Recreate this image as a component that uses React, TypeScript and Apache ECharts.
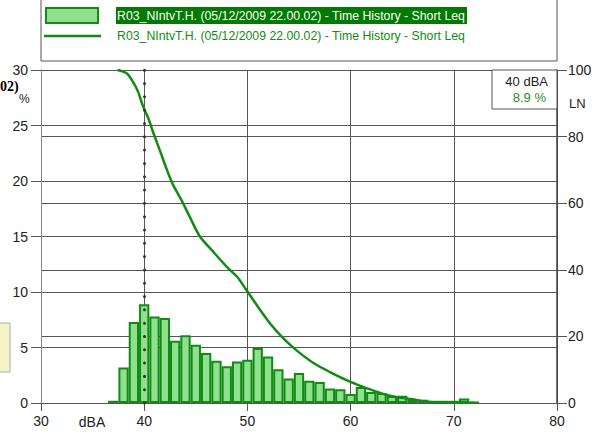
import React, { useEffect, useRef } from "react";
import * as echarts from "echarts";

// Level distribution (dBA classes, % of time)
const levels = [37, 38, 39, 40, 41, 42, 43, 44, 45, 46, 47, 48, 49, 50, 51, 52, 53, 54, 55, 56, 57, 58, 59, 60, 61, 62, 63, 64, 65, 66, 67, 68, 69, 70, 71, 72];
const percentages = [0.2, 3.2, 7.3, 8.9, 7.8, 7.65, 5.6, 6.1, 5.25, 4.5, 3.8, 3.3, 3.75, 3.9, 4.95, 4.2, 3.05, 2.2, 2.7, 2.0, 1.9, 1.3, 1.25, 0.8, 1.45, 1.0, 0.9, 0.63, 0.65, 0.35, 0.3, 0.2, 0.2, 0.2, 0.4, 0.1];

// Cumulative exceedance curve LN (dBA, %)
const lnLevels = [37.4, 38.3, 38.9, 39.4, 39.9, 40.4, 40.9, 41.5, 42.2, 42.8, 43.6, 44.4, 45.4, 46.7, 48.0, 49.0, 49.8, 51.0, 52.2, 53.3, 54.1, 55.0, 56.4, 58.0, 59.6, 61.6, 63.8, 66.0, 67.7, 69.6, 72.0];
const lnValues = [100, 99, 96.5, 93.5, 89, 85.5, 81, 76, 70, 65.5, 61, 56, 50, 45.4, 40.9, 37.9, 34.4, 29, 23.9, 20.0, 17.6, 15.2, 12.0, 9.3, 6.9, 4.4, 2.2, 1.1, 0.3, 0.1, 0];

const xTicks = [30, 40, 50, 60, 70, 80];
const cursorLevel = 40;
const cursorValue = 8.9;
const seriesName = "R03_NIntvT.H. (05/12/2009 22.00.02) - Time History - Short Leq";

const FONT = "'Liberation Sans', Arial, sans-serif";
const GREEN = "#138a13";
const GRID = "#555";

export default function App() {
  const ref = useRef<HTMLDivElement>(null);

  useEffect(() => {
    if (!ref.current) return;
    const chart = echarts.init(ref.current, null, { renderer: "svg" });
    const option: any = {
      animation: false,
      backgroundColor: "#fff",
      grid: { left: 41, right: 40, top: 70, bottom: 33, containLabel: false },
      xAxis: {
        type: "value",
        min: xTicks[0],
        max: xTicks[xTicks.length - 1],
        interval: 10,
        axisLine: { show: true, lineStyle: { color: GRID, width: 1 } },
        axisTick: { show: true, length: 8, lineStyle: { color: GRID } },
        axisLabel: { color: "#222", fontFamily: FONT, fontSize: 14, margin: 11 },
        splitLine: { show: true, lineStyle: { color: GRID, width: 1 } },
      },
      yAxis: [
        {
          type: "value",
          min: 0,
          max: 30,
          interval: 5,
          position: "left",
          axisLine: { show: true, lineStyle: { color: "#888", width: 1 } },
          axisTick: { show: true, length: 10, lineStyle: { color: GRID } },
          axisLabel: { color: "#222", fontFamily: FONT, fontSize: 14, margin: 13 },
          splitLine: { show: true, lineStyle: { color: GRID, width: 1 } },
        },
        {
          type: "value",
          min: 0,
          max: 100,
          interval: 20,
          position: "right",
          axisLine: { show: true, lineStyle: { color: "#444", width: 1.5 } },
          axisTick: { show: true, length: 10, lineStyle: { color: GRID } },
          axisLabel: { color: "#222", fontFamily: FONT, fontSize: 14, margin: 11 },
          splitLine: { show: true, lineStyle: { color: GRID, width: 1 } },
        },
      ],
      series: [
        {
          type: "bar",
          name: "dist",
          yAxisIndex: 0,
          barWidth: 10.3,
          data: levels.map((l, i) => [l, percentages[i]]),
          itemStyle: { color: "#8fe08f", borderColor: GREEN, borderWidth: 2 },
          markLine: {
            silent: true,
            symbol: "none",
            label: { show: false },
            lineStyle: { color: "#333", width: 3, type: [0.01, 13.3], cap: "round" },
            data: [{ xAxis: cursorLevel }],
          },
          z: 2,
        },
        {
          type: "line",
          name: "ln",
          yAxisIndex: 1,
          data: lnLevels.map((l, i) => [l, lnValues[i]]),
          showSymbol: false,
          smooth: 0.3,
          lineStyle: { color: GREEN, width: 2.5 },
          z: 3,
        },
      ],
      graphic: [
        // legend box
        { type: "rect", shape: { x: 41, y: -2, width: 516, height: 63 }, style: { fill: "#fff", stroke: "#555", lineWidth: 1 } },
        { type: "rect", shape: { x: 46, y: 8, width: 52, height: 15 }, style: { fill: "#8fe08f", stroke: GREEN, lineWidth: 2 } },
        { type: "rect", shape: { x: 116, y: 7, width: 351, height: 17 }, style: { fill: "#007a00" } },
        { type: "text", x: 117, y: 15.5, style: { text: seriesName, fill: "#fff", font: `12.3px ${FONT}`, textVerticalAlign: "middle" } },
        { type: "line", shape: { x1: 44, y1: 36, x2: 101, y2: 36 }, style: { stroke: GREEN, lineWidth: 2.5 } },
        { type: "text", x: 117, y: 36, style: { text: seriesName, fill: GREEN, font: `12.3px ${FONT}`, textVerticalAlign: "middle" } },
        // cursor readout
        { type: "rect", shape: { x: 492, y: 70, width: 65, height: 39 }, style: { fill: "#fff", stroke: GRID, lineWidth: 1 }, z: 10 },
        { type: "text", x: 548, y: 81, style: { text: `${cursorLevel} dBA`, fill: "#222", font: `13px ${FONT}`, textAlign: "right", textVerticalAlign: "middle" }, z: 11 },
        { type: "text", x: 546, y: 97, style: { text: `${cursorValue} %`, fill: "#2a8a2a", font: `13px ${FONT}`, textAlign: "right", textVerticalAlign: "middle" }, z: 11 },
        // axis captions
        { type: "text", x: 569, y: 103, style: { text: "LN", fill: "#222", font: `13px ${FONT}`, textVerticalAlign: "middle" } },
        { type: "text", x: 19, y: 99, style: { text: "%", fill: "#222", font: `12px ${FONT}`, textVerticalAlign: "middle" } },
        { type: "text", x: 92, y: 422, style: { text: "dBA", fill: "#222", font: `14px ${FONT}`, textAlign: "center", textVerticalAlign: "middle" } },
        { type: "text", x: 0, y: 86, style: { text: "02)", fill: "#000", font: `bold 14px 'Liberation Serif', 'DejaVu Serif', serif`, textVerticalAlign: "middle" } },
        // side panel edge
        { type: "rect", shape: { x: -2, y: 323, width: 12, height: 49 }, style: { fill: "#f6f3c6", stroke: "#aaa", lineWidth: 1 } },
      ],
    };
    chart.setOption(option);
    return () => chart.dispose();
  }, []);

  return <div ref={ref} style={{ width: 597, height: 436, position: "absolute", left: 0, top: 0 }} />;
}
